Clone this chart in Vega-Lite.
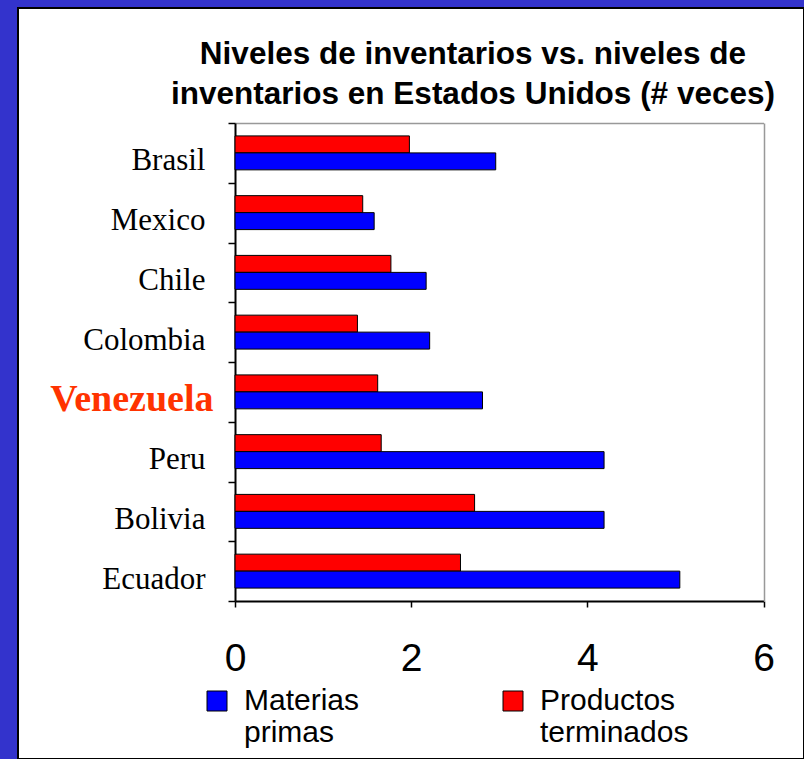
{
  "$schema": "https://vega.github.io/schema/vega-lite/v6.json",
  "width": 786,
  "height": 751,
  "autosize": {"type": "none"},
  "padding": {"left": 18, "top": 8, "right": 0, "bottom": 0},
  "background": "#3333CC",
  "config": {
    "view": {"fill": "white", "stroke": "black", "strokeWidth": 2},
    "font": "Liberation Sans"
  },
  "title": {
    "text": ["Niveles de inventarios vs. niveles de", "inventarios en Estados Unidos (# veces)"],
    "anchor": "middle",
    "orient": "top",
    "baseline": "top",
    "offset": -118,
    "dx": 62,
    "font": "Liberation Sans",
    "fontSize": 31.5,
    "fontWeight": "bold",
    "color": "black",
    "lineHeight": 40
  },
  "data": {
    "values": [
      {"country": "Brasil", "series": "Productos terminados", "value": 1.98},
      {"country": "Brasil", "series": "Materias primas", "value": 2.96},
      {"country": "Mexico", "series": "Productos terminados", "value": 1.45},
      {"country": "Mexico", "series": "Materias primas", "value": 1.58},
      {"country": "Chile", "series": "Productos terminados", "value": 1.77},
      {"country": "Chile", "series": "Materias primas", "value": 2.17},
      {"country": "Colombia", "series": "Productos terminados", "value": 1.39},
      {"country": "Colombia", "series": "Materias primas", "value": 2.21},
      {"country": "Venezuela", "series": "Productos terminados", "value": 1.62},
      {"country": "Venezuela", "series": "Materias primas", "value": 2.81},
      {"country": "Peru", "series": "Productos terminados", "value": 1.66},
      {"country": "Peru", "series": "Materias primas", "value": 4.19},
      {"country": "Bolivia", "series": "Productos terminados", "value": 2.72},
      {"country": "Bolivia", "series": "Materias primas", "value": 4.19},
      {"country": "Ecuador", "series": "Productos terminados", "value": 2.56},
      {"country": "Ecuador", "series": "Materias primas", "value": 5.05}
    ]
  },
  "layer": [
    {
      "mark": {"type": "bar", "stroke": "black", "strokeWidth": 1},
      "encoding": {
        "x": {
          "field": "value",
          "type": "quantitative",
          "scale": {"domain": [0, 6], "range": [217, 745.5], "nice": false, "zero": true},
          "axis": {
            "orient": "bottom",
            "offset": -158,
            "values": [0, 2, 4, 6],
            "grid": false,
            "title": null,
            "domainColor": "black",
            "domainWidth": 2,
            "tickColor": "black",
            "tickSize": 6,
            "tickWidth": 1.5,
            "labelFont": "Liberation Sans",
            "labelFontSize": 39,
            "labelColor": "black",
            "labelPadding": 32,
            "labelFlush": false
          }
        },
        "y": {
          "field": "country",
          "type": "nominal",
          "sort": null,
          "scale": {"range": [115, 593], "paddingInner": 0, "paddingOuter": 0},
          "axis": {
            "orient": "left",
            "offset": -217,
            "title": null,
            "tickBand": "extent",
            "domainColor": "black",
            "domainWidth": 2,
            "tickColor": "black",
            "tickSize": 7,
            "tickWidth": 1.5,
            "labelFont": "Liberation Serif",
            "labelFontSize": {"condition": {"test": "datum.value == 'Venezuela'", "value": 38}, "value": 31},
            "labelFontWeight": {"condition": {"test": "datum.value == 'Venezuela'", "value": "bold"}, "value": "normal"},
            "labelColor": {"condition": {"test": "datum.value == 'Venezuela'", "value": "#FF3300"}, "value": "black"},
            "labelPadding": {"condition": {"test": "datum.value == 'Venezuela'", "value": 15}, "value": 23},
            "labelOffset": 8,
            "labelLimit": 300
          }
        },
        "yOffset": {
          "field": "series",
          "type": "nominal",
          "sort": ["Productos terminados", "Materias primas"],
          "scale": {"paddingInner": 0, "paddingOuter": 0.76}
        },
        "color": {
          "field": "series",
          "type": "nominal",
          "scale": {"domain": ["Materias primas", "Productos terminados"], "range": ["#0000FF", "#FF0000"]},
          "legend": {
            "orient": "none",
            "legendX": 184,
            "legendY": 678,
            "direction": "horizontal",
            "title": null,
            "padding": 0,
            "symbolType": "square",
            "symbolSize": 400,
            "symbolStrokeColor": "black",
            "symbolStrokeWidth": 1,
            "symbolOpacity": 1,
            "labelFont": "Liberation Sans",
            "labelFontSize": 30,
            "labelColor": "black",
            "labelOffset": 12,
            "labelLimit": 300,
            "columnPadding": 138,
            "labelExpr": "datum.value == 'Materias primas' ? ['Materias', '\\u00a0primas'] : ['Productos', 'terminados']",
            "encode": {"labels": {"update": {"lineHeight": {"value": 32}}}}
          }
        }
      }
    },
    {
      "mark": {"type": "bar", "opacity": 0},
      "encoding": {
        "x": {
          "field": "value",
          "type": "quantitative",
          "axis": {"orient": "top", "offset": -115, "labels": false, "ticks": false, "grid": false, "title": null, "domainColor": "#999999", "domainWidth": 1.5}
        },
        "y": {
          "field": "country",
          "type": "nominal",
          "sort": null,
          "axis": {"orient": "right", "offset": -40, "labels": false, "ticks": false, "grid": false, "title": null, "domainColor": "#999999", "domainWidth": 1.5}
        }
      }
    }
  ],
  "resolve": {"axis": {"x": "independent", "y": "independent"}}
}
